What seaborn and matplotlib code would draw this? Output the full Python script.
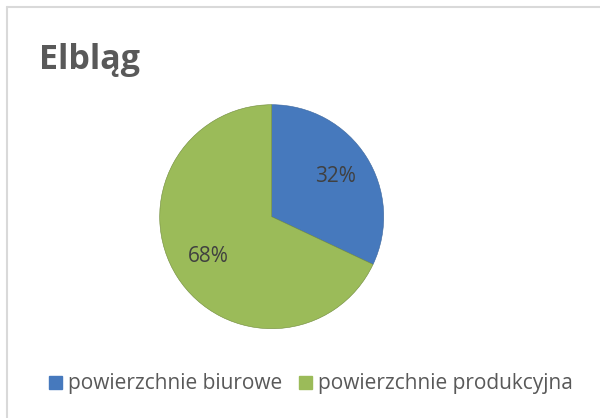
import matplotlib
matplotlib.use("Agg")
import matplotlib.pyplot as plt
import seaborn as sns
from matplotlib.patches import Patch

labels = ["powierzchnie biurowe", "powierzchnie produkcyjna"]
shares = [32, 68]
title = "Elbląg"

sns.set_theme(style="white")
plt.rcParams['font.family'] = ['Open Sans', 'DejaVu Sans']
colors = sns.color_palette(["#4679bd", "#9bbb59"])

W, H = 600, 418
fig = plt.figure(figsize=(6, 4.18), dpi=100)

# cropped chart frame (only top/left visible)
fig.add_artist(plt.Line2D([7 / W, 1], [1 - 7 / H, 1 - 7 / H], color="#d9d9d9", lw=1.5))
fig.add_artist(plt.Line2D([7 / W, 7 / W], [0, 1 - 7 / H], color="#d9d9d9", lw=1.5))

cx, cy, r = 271.7, 216.7, 112
ax = fig.add_axes([(cx - r) / W, (H - cy - r) / H, 2 * r / W, 2 * r / H])
wedges, texts, autotexts = ax.pie(
    shares, colors=colors, startangle=90, counterclock=False,
    autopct="%d%%", pctdistance=0.67,
    wedgeprops=dict(edgecolor="#6f8a3a", linewidth=0.4),
    textprops=dict(color="#404040", fontsize=15),
)
wedges[0].set_edgecolor("#3a659c")
ax.set_xlim(-1, 1)
ax.set_ylim(-1, 1)
ax.set_aspect("equal")
ax.axis("off")

fig.text(39 / W, 1 - 69 / H, title, fontsize=24.5, fontweight="bold", color="#595959")

handles = [Patch(facecolor=c, edgecolor=c) for c in colors]
fig.legend(handles, labels, loc="center", bbox_to_anchor=(311 / W, 1 - 384 / H),
           ncol=2, frameon=False, fontsize=15, labelcolor="#595959",
           handlelength=0.6, handleheight=0.6, handletextpad=0.3, columnspacing=0.8)

fig.savefig("out.png", dpi=100, facecolor="white")
